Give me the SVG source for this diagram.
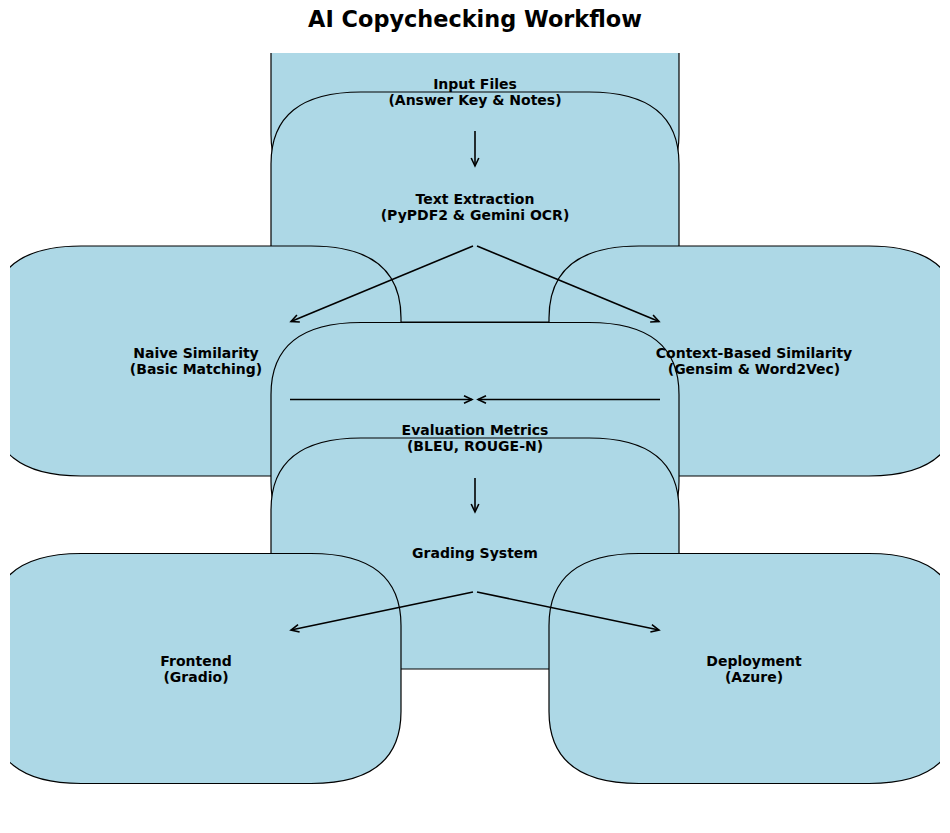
<svg xmlns="http://www.w3.org/2000/svg" width="950" height="833" viewBox="0 0 950 833">
<style>
.box{fill:#ADD8E6;stroke:#000;stroke-width:1.2}
.lbl{font-family:"DejaVu Sans",sans-serif;font-weight:bold;font-size:14px;fill:#000;text-anchor:middle}
.title{font-family:"DejaVu Sans",sans-serif;font-weight:bold;font-size:22.4px;fill:#000;text-anchor:middle}
.arr{stroke:#000;stroke-width:1.6;fill:none;marker-end:url(#ah)}
</style>
<defs>
<clipPath id="ax"><rect x="10" y="53" width="930" height="770"/></clipPath>
<marker id="ah" viewBox="-10 -6 12 12" refX="0" refY="0" markerWidth="12" markerHeight="12" markerUnits="userSpaceOnUse" orient="auto">
<path d="M-8,-3.8 L0,0 L-8,3.8" fill="none" stroke="#000" stroke-width="1.6"/>
</marker>
</defs>
<rect width="950" height="833" fill="#fff"/>
<text class="title" x="475" y="27">AI Copychecking Workflow</text>
<g clip-path="url(#ax)">
<g id="input"><path class="box" d="M361,-23.5 H589 Q679,-23.5 679,48.5 V134.5 Q679,206.5 589,206.5 H361 Q271,206.5 271,134.5 V48.5 Q271,-23.5 361,-23.5 Z"/></g>
<g id="extract"><path class="box" d="M361,92 H589 Q679,92 679,164 V250 Q679,322 589,322 H361 Q271,322 271,250 V164 Q271,92 361,92 Z"/></g>
<g id="naive"><path class="box" d="M81,246 H311 Q401,246 401,318 V404 Q401,476 311,476 H81 Q-9,476 -9,404 V318 Q-9,246 81,246 Z"/></g>
<g id="context"><path class="box" d="M639,246 H869 Q959,246 959,318 V404 Q959,476 869,476 H639 Q549,476 549,404 V318 Q549,246 639,246 Z"/></g>
<g id="eval"><path class="box" d="M361,322.5 H589 Q679,322.5 679,394.5 V481.5 Q679,553.5 589,553.5 H361 Q271,553.5 271,481.5 V394.5 Q271,322.5 361,322.5 Z"/></g>
<g id="grading"><path class="box" d="M361,438 H589 Q679,438 679,510 V597 Q679,669 589,669 H361 Q271,669 271,597 V510 Q271,438 361,438 Z"/></g>
<g id="frontend"><path class="box" d="M81,553.5 H311 Q401,553.5 401,625.5 V711.5 Q401,783.5 311,783.5 H81 Q-9,783.5 -9,711.5 V625.5 Q-9,553.5 81,553.5 Z"/></g>
<g id="deploy"><path class="box" d="M639,553.5 H869 Q959,553.5 959,625.5 V711.5 Q959,783.5 869,783.5 H639 Q549,783.5 549,711.5 V625.5 Q549,553.5 639,553.5 Z"/></g>
</g>
<g id="labels">
<g id="input-label"><text class="lbl" x="475" y="88.5">Input Files</text><text class="lbl" x="475" y="104.5">(Answer Key &amp; Notes)</text></g>
<g id="extract-label"><text class="lbl" x="475" y="204">Text Extraction</text><text class="lbl" x="475" y="220">(PyPDF2 &amp; Gemini OCR)</text></g>
<g id="naive-label"><text class="lbl" x="196" y="358">Naive Similarity</text><text class="lbl" x="196" y="374">(Basic Matching)</text></g>
<g id="context-label"><text class="lbl" x="754" y="358">Context-Based Similarity</text><text class="lbl" x="754" y="374">(Gensim &amp; Word2Vec)</text></g>
<g id="eval-label"><text class="lbl" x="475" y="435">Evaluation Metrics</text><text class="lbl" x="475" y="451">(BLEU, ROUGE-N)</text></g>
<g id="grading-label"><text class="lbl" x="475" y="558">Grading System</text></g>
<g id="frontend-label"><text class="lbl" x="196" y="666">Frontend</text><text class="lbl" x="196" y="682">(Gradio)</text></g>
<g id="deploy-label"><text class="lbl" x="754" y="666">Deployment</text><text class="lbl" x="754" y="682">(Azure)</text></g>
</g>
<g id="connectors">
<line class="arr" x1="475" y1="131" x2="475" y2="166"/>
<line class="arr" x1="473" y1="246" x2="291" y2="321.5"/>
<line class="arr" x1="477" y1="246" x2="659" y2="321.5"/>
<line class="arr" x1="290" y1="399.5" x2="472" y2="399.5"/>
<line class="arr" x1="660" y1="399.5" x2="478" y2="399.5"/>
<line class="arr" x1="475" y1="478" x2="475" y2="512"/>
<line class="arr" x1="473" y1="592" x2="291" y2="630"/>
<line class="arr" x1="477" y1="592" x2="659" y2="630"/>
</g>
</svg>
